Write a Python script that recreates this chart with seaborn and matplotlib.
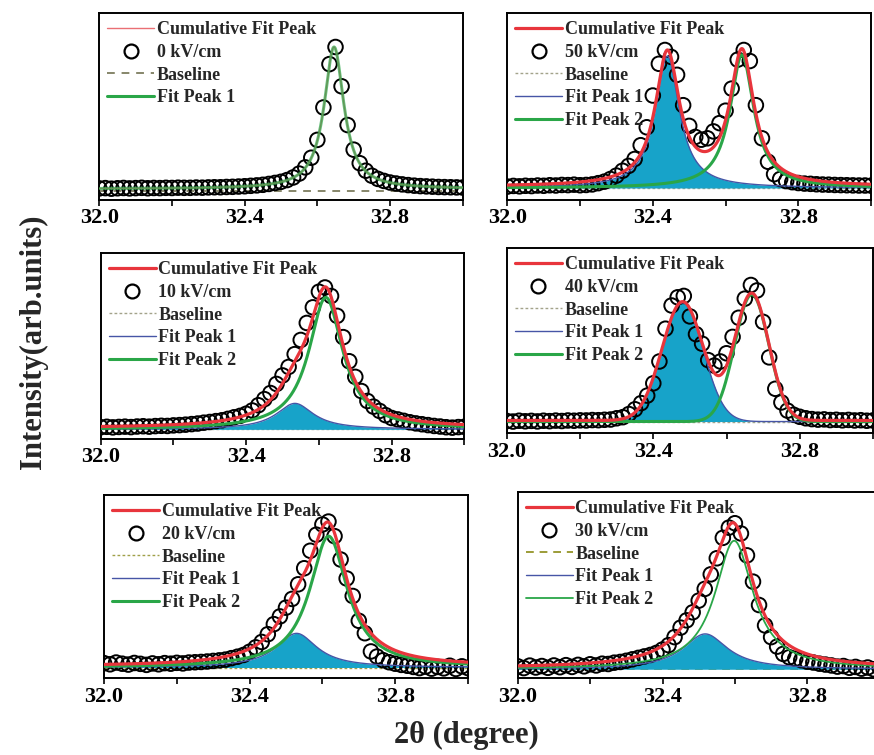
import numpy as np
import matplotlib
matplotlib.use("Agg")
import matplotlib.pyplot as plt
import seaborn as sns
from matplotlib.lines import Line2D

sns.set_theme(style="white")
plt.rcParams['font.family'] = ['Liberation Serif', 'DejaVu Serif']
plt.rcParams['font.weight'] = 'bold'

# ---------------- data ----------------
# 2theta scan: uniform step from 32.0 to 33.0 degrees
scan_start = 32.0
scan_step = 1 / 60
n_scan = 61
two_theta = scan_start + scan_step * np.arange(n_scan)

field_labels = ["0 kV/cm", "50 kV/cm", "10 kV/cm", "40 kV/cm", "20 kV/cm", "30 kV/cm"]
tick_values = [32.0, 32.4, 32.8]
tick_labels = ["32.0", "32.4", "32.8"]
minor_tick_values = [32.2, 32.6, 33.0]

intensity_0kV = [0.018, 0.020, 0.016, 0.019, 0.021, 0.018, 0.020, 0.022, 0.019, 0.021,
                 0.020, 0.022, 0.021, 0.023, 0.022, 0.022, 0.024, 0.023, 0.025, 0.026,
                 0.026, 0.028, 0.029, 0.031, 0.033, 0.036, 0.039, 0.043, 0.049, 0.056,
                 0.064, 0.076, 0.094, 0.121, 0.164, 0.231, 0.355, 0.580, 0.881, 1.000,
                 0.727, 0.458, 0.287, 0.193, 0.141, 0.106, 0.084, 0.070, 0.059, 0.052,
                 0.046, 0.041, 0.037, 0.034, 0.032, 0.030, 0.028, 0.027, 0.026, 0.025, 0.024]
intensity_50kV = [0.010, 0.015, 0.012, 0.016, 0.014, 0.018, 0.016, 0.020, 0.018, 0.022,
                  0.021, 0.024, 0.020, 0.022, 0.026, 0.035, 0.046, 0.065, 0.090, 0.125,
                  0.160, 0.210, 0.310, 0.440, 0.670, 0.900, 1.000, 0.950, 0.820, 0.600,
                  0.450, 0.370, 0.350, 0.360, 0.410, 0.470, 0.560, 0.720, 0.930, 1.000,
                  0.920, 0.600, 0.360, 0.190, 0.100, 0.065, 0.050, 0.042, 0.036, 0.032,
                  0.030, 0.027, 0.025, 0.024, 0.022, 0.021, 0.020, 0.019, 0.018, 0.018, 0.017]
intensity_10kV = [0.015, 0.018, 0.014, 0.017, 0.019, 0.016, 0.020, 0.022, 0.019, 0.023,
                  0.025, 0.024, 0.028, 0.030, 0.033, 0.037, 0.041, 0.047, 0.052, 0.058,
                  0.064, 0.074, 0.085, 0.095, 0.110, 0.133, 0.170, 0.213, 0.256, 0.320,
                  0.380, 0.440, 0.530, 0.630, 0.750, 0.860, 0.970, 1.000, 0.940, 0.800,
                  0.650, 0.480, 0.370, 0.270, 0.200, 0.160, 0.130, 0.100, 0.080, 0.070,
                  0.060, 0.050, 0.042, 0.036, 0.030, 0.024, 0.020, 0.015, 0.012, 0.016, 0.018]
intensity_40kV = [0.004, 0.000, 0.006, 0.002, 0.005, 0.001, 0.006, 0.003, 0.007, 0.004,
                  0.008, 0.006, 0.009, 0.008, 0.011, 0.010, 0.013, 0.015, 0.024, 0.032,
                  0.055, 0.090, 0.135, 0.190, 0.280, 0.440, 0.680, 0.850, 0.910, 0.920,
                  0.770, 0.640, 0.570, 0.450, 0.410, 0.440, 0.500, 0.620, 0.760, 0.900,
                  1.000, 0.960, 0.730, 0.470, 0.240, 0.140, 0.080, 0.050, 0.035, 0.024,
                  0.018, 0.014, 0.016, 0.011, 0.013, 0.009, 0.012, 0.008, 0.010, 0.006, 0.008]
intensity_20kV = [0.030, 0.022, 0.034, 0.026, 0.020, 0.031, 0.025, 0.018, 0.028, 0.022,
                  0.030, 0.026, 0.032, 0.028, 0.034, 0.036, 0.038, 0.041, 0.045, 0.049,
                  0.054, 0.064, 0.074, 0.086, 0.108, 0.138, 0.175, 0.228, 0.297, 0.350,
                  0.410, 0.470, 0.570, 0.680, 0.800, 0.910, 0.980, 1.000, 0.900, 0.740,
                  0.610, 0.490, 0.320, 0.235, 0.110, 0.075, 0.050, 0.036, 0.026, 0.018,
                  0.012, 0.004, -0.004, 0.006, -0.008, 0.004, -0.006, 0.012, -0.010, 0.008, -0.004]
intensity_30kV = [0.020, 0.008, 0.025, 0.012, 0.022, 0.010, 0.026, 0.014, 0.028, 0.016,
                  0.030, 0.020, 0.034, 0.026, 0.038, 0.036, 0.045, 0.050, 0.058, 0.068,
                  0.078, 0.088, 0.098, 0.112, 0.135, 0.165, 0.220, 0.285, 0.335, 0.390,
                  0.470, 0.550, 0.650, 0.760, 0.900, 0.970, 1.000, 0.930, 0.780, 0.600,
                  0.440, 0.300, 0.220, 0.155, 0.105, 0.082, 0.072, 0.062, 0.052, 0.046,
                  0.038, 0.032, 0.026, 0.018, 0.022, 0.010, 0.016, 0.004, 0.012, 0.000, 0.008]

# fitted peak parameters (centre, height, half width at half maximum)
fit_centers_0kV = [32.646]
fit_heights_0kV = [0.985]
fit_hwhm_0kV = [0.033]
fit_centers_50kV = [32.440, 32.645]
fit_heights_50kV = [0.955, 0.965]
fit_hwhm_50kV = [0.040, 0.040]
fit_centers_10kV = [32.534, 32.619]
fit_heights_10kV = [0.183, 0.930]
fit_hwhm_10kV = [0.062, 0.057]
fit_centers_40kV = [32.480, 32.669]
fit_heights_40kV = [0.870, 0.930]
fit_hwhm_40kV = [0.066, 0.055]
fit_centers_20kV = [32.529, 32.617]
fit_heights_20kV = [0.234, 0.900]
fit_hwhm_20kV = [0.068, 0.063]
fit_centers_30kV = [32.518, 32.598]
fit_heights_30kV = [0.242, 0.880]
fit_hwhm_30kV = [0.075, 0.064]
fit_shapes = ["lorentz", "lorentz", "lorentz", "gauss", "lorentz", "lorentz"]
fit_offsets = [0.015, 0.010, 0.010, 0.008, 0.008, 0.008]

intensities = [intensity_0kV, intensity_50kV, intensity_10kV,
               intensity_40kV, intensity_20kV, intensity_30kV]
centers = [fit_centers_0kV, fit_centers_50kV, fit_centers_10kV,
           fit_centers_40kV, fit_centers_20kV, fit_centers_30kV]
heights = [fit_heights_0kV, fit_heights_50kV, fit_heights_10kV,
           fit_heights_40kV, fit_heights_20kV, fit_heights_30kV]
widths = [fit_hwhm_0kV, fit_hwhm_50kV, fit_hwhm_10kV,
          fit_hwhm_40kV, fit_hwhm_20kV, fit_hwhm_30kV]

# ---------------- layout / style ----------------
W, H = 874, 755
def box(l, t, r, b):
    return [l / W, 1 - b / H, (r - l) / W, (b - t) / H]

positions = [box(99.3, 13, 462.7, 200), box(507.3, 13, 871.1, 200),
             box(100.7, 253, 464.4, 439), box(506.9, 248, 872.9, 433.3),
             box(104, 495, 468, 678.3), box(517.7, 492, 879.7, 678.3)]
ylims = [(-0.0625, 1.236), (-0.087, 1.268), (-0.068, 1.243),
         (-0.086, 1.271), (-0.074, 1.182), (-0.062, 1.214)]

RED = "#e8353c"
GREEN = "#2aa648"
BLUE = "#4655a6"
FILL = "#17a3c9"
cum_colors = ["#ea6f74", RED, RED, RED, RED, RED]
cum_lw = [1.0, 2.3, 2.3, 2.3, 2.3, 2.3]
green_lw = [2.2, 2.2, 2.2, 2.2, 2.2, 1.3]
base_colors = ["#86866a", "#a3a38a", "#a3a38a", "#a3a38a", "#a0a048", "#9c9c38"]
base_dashes = [(4, 3.5), (2, 1.6), (2, 1.6), (2, 1.6), (2, 1.6), (4, 3.0)]
base_lw = [1.4, 1.0, 1.0, 1.0, 1.0, 1.4]


def profile(x, c, h, w, kind):
    if kind == "gauss":
        return h * np.exp(-np.log(2) * ((x - c) / w) ** 2)
    return h / (1 + ((x - c) / w) ** 2)


fig = plt.figure(figsize=(W / 100, H / 100), dpi=100)
xf = np.linspace(32.0, 33.0, 801)

for i in range(6):
    ax = fig.add_axes(positions[i])
    comps = [profile(xf, c, h, w, fit_shapes[i])
             for c, h, w in zip(centers[i], heights[i], widths[i])]
    cumulative = fit_offsets[i] + np.sum(comps, axis=0)

    # baseline
    ax.axhline(0.0, color=base_colors[i], lw=base_lw[i], dashes=base_dashes[i], zorder=1)

    if len(comps) == 2:
        ax.fill_between(xf, 0, comps[0], color=FILL, lw=0, zorder=1.5)

    sns.scatterplot(x=two_theta, y=intensities[i], ax=ax, marker="o", s=110,
                    facecolors="none", edgecolor="black", linewidth=1.4,
                    zorder=3, legend=False)

    if len(comps) == 1:
        sns.lineplot(x=xf, y=cumulative, ax=ax, color=cum_colors[i], lw=cum_lw[i],
                     zorder=4, errorbar=None)
        sns.lineplot(x=xf, y=fit_offsets[i] + comps[0], ax=ax, color=GREEN,
                     lw=green_lw[i], alpha=0.7, zorder=5, errorbar=None)
    else:
        sns.lineplot(x=xf, y=comps[0], ax=ax, color=BLUE, lw=1.0, zorder=4, errorbar=None)
        sns.lineplot(x=xf, y=comps[1], ax=ax, color=GREEN, lw=green_lw[i], zorder=4.5,
                     errorbar=None)
        sns.lineplot(x=xf, y=cumulative, ax=ax, color=cum_colors[i], lw=cum_lw[i],
                     zorder=5, errorbar=None)

    ax.set_xlim(32.0, 33.0)
    ax.set_ylim(*ylims[i])
    ax.set_xticks(tick_values)
    ax.set_xticklabels(tick_labels)
    ax.set_xticks(minor_tick_values, minor=True)
    ax.set_yticks([])
    ax.set_xlabel("")
    ax.set_ylabel("")
    ax.tick_params(axis="x", which="both", direction="out", length=4, width=1.2,
                   colors="black", labelsize=16, pad=2, bottom=True)
    for lab in ax.get_xticklabels():
        lab.set_fontweight("bold")
    for sp in ax.spines.values():
        sp.set_visible(True)
        sp.set_color("black")
        sp.set_linewidth(1.4)

    handles = [Line2D([], [], color=cum_colors[i], lw=cum_lw[i]),
               Line2D([], [], ls="none", marker="o", markersize=10, mfc="none",
                      mec="black", mew=1.6),
               Line2D([], [], color=base_colors[i], lw=base_lw[i], dashes=base_dashes[i])]
    labels = ["Cumulative Fit Peak", field_labels[i], "Baseline"]
    if len(comps) == 1:
        handles.append(Line2D([], [], color=GREEN, lw=green_lw[i]))
        labels.append("Fit Peak 1")
    else:
        handles.append(Line2D([], [], color=BLUE, lw=1.0))
        handles.append(Line2D([], [], color=GREEN, lw=green_lw[i]))
        labels += ["Fit Peak 1", "Fit Peak 2"]
    ax.legend(handles, labels, loc="upper left", frameon=False,
              prop={"size": 13, "weight": "bold"}, handlelength=2.6,
              handletextpad=0.15, labelspacing=0.32, borderpad=0.25,
              borderaxespad=0.2)

fig.text(33 / W, 1 - 342 / H, "Intensity(arb.units)", rotation=90, ha="center",
         va="center", fontsize=22, fontweight="bold")
fig.text(466 / W, 1 - 735 / H, "2\u03b8 (degree)", ha="center", va="center",
         fontsize=22, fontweight="bold")

fig.savefig("out.png", dpi=100, facecolor="white")
